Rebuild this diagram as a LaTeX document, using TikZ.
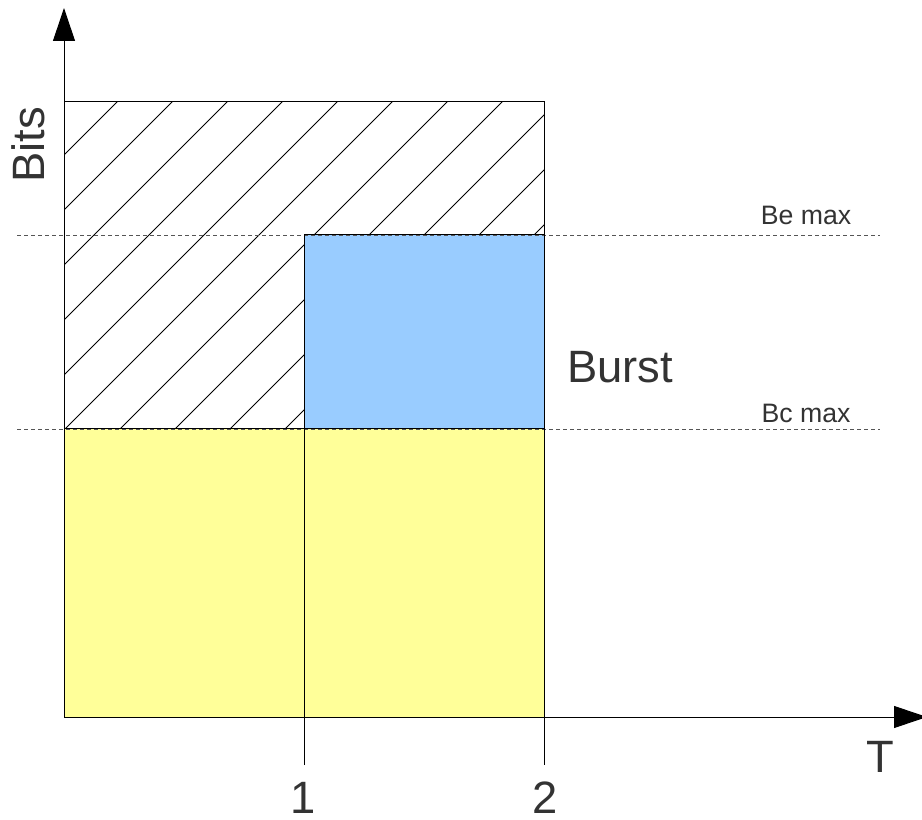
\documentclass[tikz,border=0pt]{standalone}
\usepackage{fontspec}
\setmainfont{Liberation Sans}
\usetikzlibrary{arrows.meta}
\definecolor{bbblue}{RGB}{153,204,255}
\definecolor{bbyellow}{RGB}{255,255,153}
\definecolor{bbtext}{RGB}{51,51,51}
\definecolor{bbdash}{RGB}{85,85,85}

\begin{document}
\begin{tikzpicture}[x=0.75pt,y=0.75pt,line width=0.75pt,
    >={Triangle[length=24.75pt,width=16.5pt]},
    biglabel/.style={text=bbtext,inner sep=0pt,anchor=base,font=\fontsize{34}{40}\selectfont},
    smalllabel/.style={text=bbtext,inner sep=0pt,anchor=base,font=\fontsize{20}{24}\selectfont},
    limit/.style={bbdash,line width=0.6pt,dash pattern=on 3pt off 2.25pt},
    hatch/.style={line width=0.6pt}]
  \useasboundingbox (0,0) rectangle (922,819);
  \coordinate (O) at (64,102);
  \coordinate (Ytip) at (64,811);
  \coordinate (Xtip) at (927,102);
  \coordinate (Tl) at (64,717);
  \coordinate (Tr) at (544,717);
  \coordinate (Cl) at (64,390);
  \coordinate (Cm) at (304,390);
  \coordinate (Cr) at (544,390);
  \coordinate (Em) at (304,584);
  \coordinate (Er) at (544,584);
  \coordinate (Rb) at (544,102);
  % filled areas
  \fill[bbyellow] (O) rectangle (Cr);
  \fill[bbblue] (Cm) rectangle (Er);
  % hatched area
  \begin{scope}
    \clip (Cl) -- (Tl) -- (Tr) -- (Er) -- (Em) -- (Cm) -- cycle;
    \foreach \d in {-655,-600,...,115}
      \draw[hatch] (0,-\d) -- (900,900-\d);
  \end{scope}
  % limits
  \draw[limit] (17,584) -- (880,584);
  \draw[limit] (17,390) -- (880,390);
  % outlines
  \draw (Tl) -- (Tr) -- (Rb);
  \draw (Cl) -- (Cr);
  \draw (Em) -- (Er);
  \draw (304,54) -- (Em);
  \draw (Rb) -- (544,54);
  % axes
  \draw[->] (O) -- (Ytip);
  \draw[->] (O) -- (Xtip);
  % labels
  \node[biglabel,rotate=90] (bits) at (45,674) {Bits};
  \node[biglabel] (burst) at (620,436) {Burst};
  \node[biglabel] (t) at (880,47) {T};
  \node[biglabel] (one) at (303,6) {1};
  \node[biglabel] (two) at (545,6) {2};
  \node[smalllabel] (bemax) at (806,594) {Be max};
  \node[smalllabel] (bcmax) at (806,396) {Bc max};
\end{tikzpicture}
\end{document}
